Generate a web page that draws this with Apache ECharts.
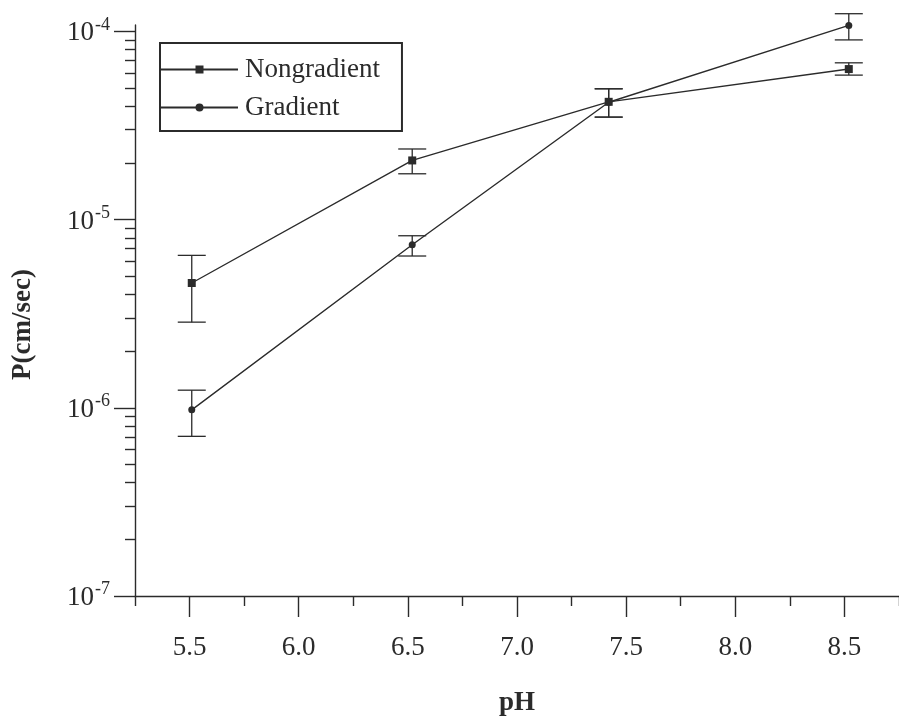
<!DOCTYPE html>
<html>
<head>
<meta charset="utf-8">
<script src="https://cdn.jsdelivr.net/npm/echarts@6/dist/echarts.min.js"></script>
<style>
  html, body { margin: 0; padding: 0; background: #fff; }
  #chart { width: 899px; height: 722px; }
</style>
</head>
<body>
<div id="chart"></div>
<script>
// Permeability P (cm/sec) versus pH, two transport conditions
const pH = [5.51, 6.52, 7.42, 8.52];

const nongradient   = [4.6e-6, 2.06e-5, 4.22e-5, 6.3e-5];
const nongradientHi = [6.45e-6, 2.37e-5, 4.95e-5, 6.8e-5];
const nongradientLo = [2.85e-6, 1.75e-5, 3.5e-5, 5.85e-5];

const gradient   = [9.75e-7, 7.35e-6, 4.2e-5, 1.075e-4];
const gradientHi = [1.24e-6, 8.2e-6, 4.95e-5, 1.24e-4];
const gradientLo = [7.05e-7, 6.4e-6, 3.5e-5, 9.0e-5];

// axis ticks
const xMajorTicks = [5.5, 6.0, 6.5, 7.0, 7.5, 8.0, 8.5];
const xMinorTicks = [5.25, 5.75, 6.25, 6.75, 7.25, 7.75, 8.25, 8.75];
const yDecades = [1e-7, 1e-6, 1e-5, 1e-4];
const yMinorTicks = [];
yDecades.slice(0, 3).forEach(d => {
  for (let m = 2; m <= 9; m++) yMinorTicks.push(+(m * d).toPrecision(3));
});

const INK = '#2b2b2b';
const FONT = '"Liberation Serif", "DejaVu Serif", serif';

const chart = echarts.init(document.getElementById('chart'), null, { renderer: 'canvas' });

function pairs(xs, ys) { return xs.map((x, i) => [x, ys[i]]); }
function barData(xs, lo, hi) { return xs.map((x, i) => [x, lo[i], hi[i]]); }

function errorBarItem(params, api) {
  const x = api.value(0);
  const lo = api.coord([x, api.value(1)]);
  const hi = api.coord([x, api.value(2)]);
  const half = 14;
  const style = { stroke: INK, lineWidth: 1.3 };
  return {
    type: 'group',
    children: [
      { type: 'line', shape: { x1: lo[0], y1: lo[1], x2: hi[0], y2: hi[1] }, style },
      { type: 'line', shape: { x1: hi[0] - half, y1: hi[1], x2: hi[0] + half, y2: hi[1] }, style },
      { type: 'line', shape: { x1: lo[0] - half, y1: lo[1], x2: lo[0] + half, y2: lo[1] }, style }
    ]
  };
}

const tickLine = { color: INK, width: 1.4 };

chart.setOption({
  animation: false,
  backgroundColor: '#fff',
  textStyle: { fontFamily: FONT, color: INK },
  grid: { left: 135, top: 25, width: 767, height: 577 },
  legend: {
    left: 160, top: 43,
    orient: 'vertical',
    data: ['Nongradient', 'Gradient'],
    itemWidth: 77, itemHeight: 10, itemGap: 11,
    padding: [13, 22, 10, 0],
    borderColor: INK, borderWidth: 2,
    textStyle: { fontFamily: FONT, fontSize: 27, color: INK, padding: [0, 0, 0, 2] },
    selectedMode: false
  },
  xAxis: [
    {
      type: 'value', min: 5.25, max: 8.75,
      name: 'pH', nameLocation: 'middle', nameGap: 94,
      nameTextStyle: { fontFamily: FONT, fontSize: 27, fontWeight: 'bold', color: INK },
      axisLine: { show: true, lineStyle: tickLine },
      axisTick: { show: true, length: 21, customValues: xMajorTicks, lineStyle: tickLine },
      axisLabel: {
        customValues: xMajorTicks, margin: 38,
        fontFamily: FONT, fontSize: 27, color: INK,
        formatter: v => v.toFixed(1)
      },
      splitLine: { show: false }
    },
    {
      type: 'value', min: 5.25, max: 8.75, position: 'bottom', offset: 0,
      axisLine: { show: false },
      axisTick: { show: true, length: 10, customValues: xMinorTicks, lineStyle: tickLine },
      axisLabel: { show: false },
      splitLine: { show: false }
    }
  ],
  yAxis: [
    {
      type: 'log', logBase: 10, min: 1e-7, max: 1.08e-4,
      name: 'P(cm/sec)', nameLocation: 'middle', nameGap: 98, nameRotate: 90,
      nameTextStyle: { fontFamily: FONT, fontSize: 27, fontWeight: 'bold', color: INK, padding: [0, 28, 0, 0] },
      axisLine: { show: true, lineStyle: tickLine },
      axisTick: { show: true, length: 21, customValues: yDecades, lineStyle: tickLine },
      axisLabel: {
        customValues: yDecades, margin: 25,
        formatter: v => '{a|10}{b|' + Math.round(Math.log10(v)) + '}',
        rich: {
          a: { fontFamily: FONT, fontSize: 27, color: INK, padding: [4, 0, 0, 0] },
          b: { fontFamily: FONT, fontSize: 18, color: INK, verticalAlign: 'top', padding: [0, 0, 0, 1] }
        }
      },
      splitLine: { show: false }
    },
    {
      type: 'log', logBase: 10, min: 1e-7, max: 1.08e-4, position: 'left', offset: 0,
      axisLine: { show: false },
      axisTick: { show: true, length: 10, customValues: yMinorTicks, lineStyle: tickLine },
      axisLabel: { show: false },
      splitLine: { show: false }
    }
  ],
  series: [
    {
      name: 'Gradient', type: 'line',
      data: pairs(pH, gradient),
      symbol: 'circle', symbolSize: 7,
      lineStyle: { color: INK, width: 1.4 },
      itemStyle: { color: INK },
      z: 3
    },
    {
      name: 'Nongradient', type: 'line',
      data: pairs(pH, nongradient),
      symbol: 'rect', symbolSize: 8,
      lineStyle: { color: INK, width: 1.4 },
      itemStyle: { color: INK },
      z: 4
    },
    {
      type: 'custom', name: 'Gradient error',
      data: barData(pH, gradientLo, gradientHi),
      renderItem: errorBarItem, z: 2, silent: true
    },
    {
      type: 'custom', name: 'Nongradient error',
      data: barData(pH, nongradientLo, nongradientHi),
      renderItem: errorBarItem, z: 2, silent: true
    }
  ]
});
</script>
</body>
</html>
